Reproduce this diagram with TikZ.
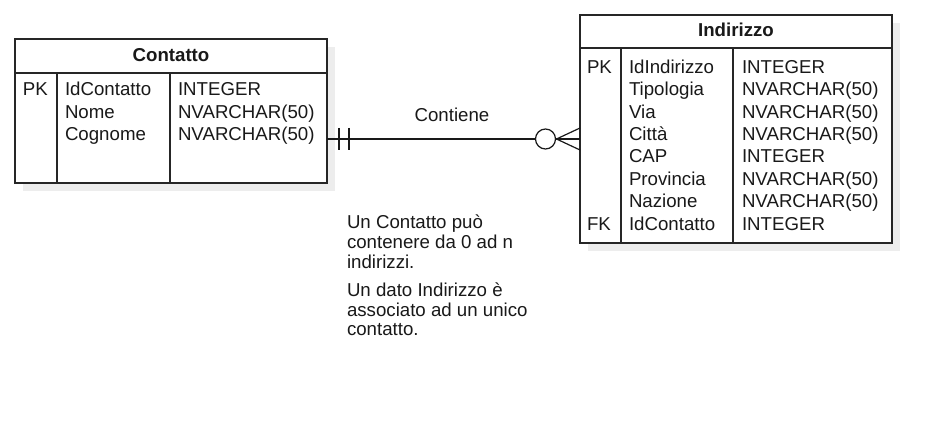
\documentclass[tikz,border=0pt]{standalone}
\usepackage{fontspec}
\setmainfont{Liberation Sans}
\begin{document}
\begin{tikzpicture}[x=1pt,y=-1pt,
  every node/.style={inner sep=0pt, outer sep=0pt, text=black!90},
  tbl/.style={draw=black!85, line width=1.6pt, rectangle, anchor=north west},
  shade/.style={fill=black!7},
  inner/.style={draw=black!85, line width=1.1pt},
  conn/.style={draw=black!90, line width=1.2pt},
  cell/.style={anchor=base west, font=\fontsize{18.67}{22.4}\selectfont},
  title/.style={anchor=base, font=\fontsize{18.67}{22.4}\selectfont\bfseries},
  note/.style={anchor=base west, font=\fontsize{18.67}{20}\selectfont}
]
\useasboundingbox (0,0) rectangle (951,435);
\fill[white] (0,0) rectangle (951,435);
% shadows
\fill[shade] (23,47) rectangle (335,191);
\fill[shade] (588,23) rectangle (900,251);
% tables
\node[tbl, fill=white, minimum width=312pt, minimum height=144pt] (contatto) at (15,39) {};
\node[tbl, fill=white, minimum width=312pt, minimum height=228pt] (indirizzo) at (580,15) {};
% Contatto inner lines
\draw[inner] (15,73) -- (327,73);
\draw[inner] (57,73) -- (57,183);
\draw[inner] (170,73) -- (170,183);
% Indirizzo inner lines
\draw[inner] (580,48) -- (892,48);
\draw[inner] (621,48) -- (621,243);
\draw[inner] (733,48) -- (733,243);
% titles
\node[title] (ct) at (171,61.7) {Contatto};
\node[title] (it) at (736,37) {Indirizzo};
% Contatto rows
\node[cell] (cpk) at (23,96) {PK};
\foreach \t [count=\i from 0] in {IdContatto,Nome,Cognome}
  \node[cell] (cn\i) at (65,96+22.4*\i) {\t};
\foreach \t [count=\i from 0] in {INTEGER,NVARCHAR(50),NVARCHAR(50)}
  \node[cell] (ct\i) at (178,96+22.4*\i) {\t};
% Indirizzo rows
\node[cell] (ipk) at (587,73.3) {PK};
\node[cell] (ifk) at (587,230.1) {FK};
\foreach \t [count=\i from 0] in {IdIndirizzo,Tipologia,Via,Città,CAP,Provincia,Nazione,IdContatto}
  \node[cell] (in\i) at (629,73.3+22.4*\i) {\t};
\foreach \t [count=\i from 0] in {INTEGER,NVARCHAR(50),NVARCHAR(50),NVARCHAR(50),INTEGER,NVARCHAR(50),NVARCHAR(50),INTEGER}
  \node[cell] (iy\i) at (742,73.3+22.4*\i) {\t};
% connector
\coordinate (ly) at (450,139);
\draw[conn] (contatto.east |- ly) -- (indirizzo.west |- ly);
\draw[conn] (339,128) -- (339,150);
\draw[conn] (349,128) -- (349,150);
\node[circle, draw=black!90, line width=1.2pt, fill=white, minimum size=20pt] (zero) at (545.5,139) {};
\coordinate (apex) at (556.5,139);
\draw[conn] (apex) -- (indirizzo.west |- 0,128);
\draw[conn] (apex) -- (indirizzo.west |- 0,150);
\node[anchor=base, font=\fontsize{18.67}{22.4}\selectfont] (lbl) at (452,121.7) {Contiene};
% note
\node[note] (n1) at (347,229) {Un Contatto può};
\node[note] (n2) at (347,248.6) {contenere da 0 ad n};
\node[note] (n3) at (347,268.2) {indirizzi.};
\node[note] (n4) at (347,296.6) {Un dato Indirizzo è};
\node[note] (n5) at (347,316.2) {associato ad un unico};
\node[note] (n6) at (347,335.8) {contatto.};
\end{tikzpicture}
\end{document}
